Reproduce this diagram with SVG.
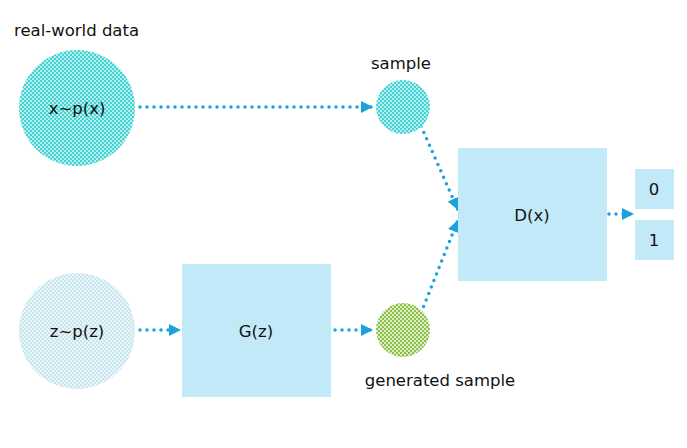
<svg xmlns="http://www.w3.org/2000/svg" width="687" height="448" viewBox="0 0 687 448">
<style>
text{font-family:"DejaVu Sans","Noto Sans",sans-serif;font-size:16.5px;fill:#111}
.box{fill:#c2e9f8}
.con{fill:none;stroke:#1ba2dc;stroke-width:3.5;stroke-linecap:round;stroke-dasharray:0 7}
</style>
<defs>
<pattern id="pTeal" width="4" height="4" patternUnits="userSpaceOnUse">
<rect width="4" height="4" fill="#b4eeee"/>
<rect width="2" height="2" fill="#44d2d2"/>
<rect x="2" y="2" width="2" height="2" fill="#44d2d2"/>
</pattern>
<pattern id="pLight" width="4" height="4" patternUnits="userSpaceOnUse">
<rect width="4" height="4" fill="#ebf6f9"/>
<rect width="2" height="2" fill="#c6e5ef"/>
<rect x="2" y="2" width="2" height="2" fill="#c6e5ef"/>
</pattern>
<pattern id="pGreen" width="4" height="4" patternUnits="userSpaceOnUse">
<rect width="4" height="4" fill="#dcedc4"/>
<rect width="2" height="2" fill="#8cc04a"/>
<rect x="2" y="2" width="2" height="2" fill="#8cc04a"/>
</pattern>
<marker id="arr" viewBox="0 0 10 10" refX="10" refY="5" markerWidth="12" markerHeight="12" markerUnits="userSpaceOnUse" orient="auto">
<path d="M0,0 L10,5 L0,10 Z" fill="#1ba2dc"/>
</marker>
</defs>
<g id="connectors">
<line class="con" x1="140" y1="107" x2="373" y2="107" marker-end="url(#arr)"/>
<line class="con" x1="140" y1="330" x2="181" y2="330" marker-end="url(#arr)"/>
<line class="con" x1="335" y1="330" x2="373" y2="330" marker-end="url(#arr)"/>
<line class="con" x1="421" y1="126" x2="458" y2="210" marker-end="url(#arr)"/>
<line class="con" x1="421" y1="313" x2="458" y2="220" marker-end="url(#arr)"/>
<line class="con" x1="609" y1="214" x2="634" y2="214" marker-end="url(#arr)"/>
</g>
<g id="real-world-label"><text x="14" y="36">real-world data</text></g>
<g id="xpx"><circle cx="77" cy="108" r="58" fill="url(#pTeal)"/><text x="77" y="114" text-anchor="middle">x~p(x)</text></g>
<g id="zpz"><circle cx="77" cy="331" r="58" fill="url(#pLight)"/><text x="77" y="337" text-anchor="middle">z~p(z)</text></g>
<g id="sample"><circle cx="403" cy="107" r="27" fill="url(#pTeal)"/><text x="401" y="69" text-anchor="middle">sample</text></g>
<g id="generated"><circle cx="403" cy="330" r="27" fill="url(#pGreen)"/><text x="440" y="386" text-anchor="middle">generated sample</text></g>
<g id="G"><rect class="box" x="182" y="264" width="149" height="133"/><text x="256" y="337" text-anchor="middle">G(z)</text></g>
<g id="D"><rect class="box" x="458" y="148" width="149" height="133"/><text x="532" y="221" text-anchor="middle">D(x)</text></g>
<g id="out0"><rect class="box" x="635" y="169" width="39" height="40"/><text x="654" y="195" text-anchor="middle">0</text></g>
<g id="out1"><rect class="box" x="635" y="220" width="39" height="40"/><text x="654" y="246" text-anchor="middle">1</text></g>
</svg>
